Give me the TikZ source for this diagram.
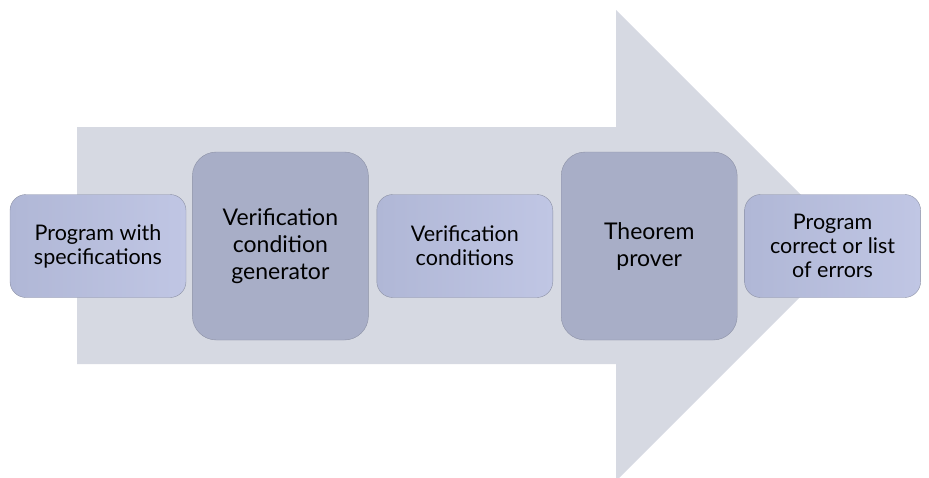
\documentclass[tikz,border=0pt]{standalone}
\usepackage{fontspec}
\setmainfont{Lato}
\usetikzlibrary{positioning}
\definecolor{arrowgray}{RGB}{214,217,226}
\definecolor{edgegray}{RGB}{140,145,165}
\definecolor{lavleft}{RGB}{176,183,214}
\definecolor{lavright}{RGB}{192,198,228}
\definecolor{slate}{RGB}{168,174,199}
\tikzset{
    smallbox/.style={draw=edgegray, rounded corners=16pt, left color=lavleft,
        right color=lavright, minimum width=176pt, minimum height=103pt,
        align=center, font=\fontsize{21.5}{24}\selectfont},
    bigbox/.style={draw=edgegray, rounded corners=24pt, fill=slate,
        minimum width=176pt, minimum height=188pt,
        align=center, font=\fontsize{23}{27}\selectfont}
}
\begin{document}
\begin{tikzpicture}[x=1pt, y=-1pt]
    \clip (0, 0) rectangle (929, 477);
    % big background arrow
    \fill[arrowgray] (77, 127) -- (616, 127) -- (616, 10) -- (851.5, 245.5)
        -- (616, 481) -- (616, 364) -- (77, 364) -- cycle;
    \node[smallbox] (spec) at (98, 246) {Program with\\specifications};
    \node[bigbox, right=6pt of spec] (vcgen) {Verification\\condition\\generator};
    \node[smallbox, right=8pt of vcgen] (vcs) {Verification\\conditions};
    \node[bigbox, right=8pt of vcs] (prover) {Theorem\\prover};
    \node[smallbox, right=7pt of prover] (result) {Program\\correct or list\\of errors};
\end{tikzpicture}
\end{document}
